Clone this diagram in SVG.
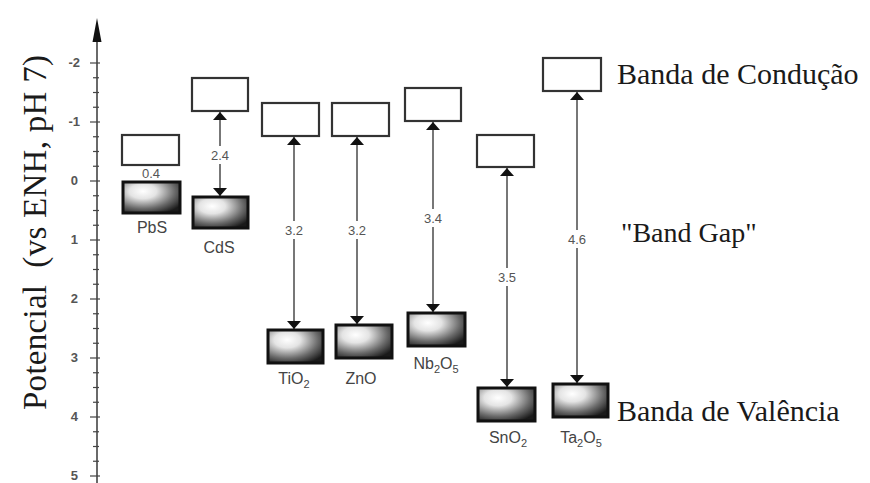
<svg xmlns="http://www.w3.org/2000/svg" width="870" height="483" viewBox="0 0 870 483">
<defs>
<radialGradient id="vbg" cx="0.35" cy="0.3" r="0.8">
<stop offset="0" stop-color="#ffffff"/>
<stop offset="0.3" stop-color="#e4e4e4"/>
<stop offset="0.7" stop-color="#6a6a6a"/>
<stop offset="1" stop-color="#1a1a1a"/>
</radialGradient>
<marker id="ah" viewBox="0 0 8 14" refX="8" refY="7" markerWidth="8" markerHeight="14" markerUnits="userSpaceOnUse" orient="auto-start-reverse">
<path d="M0,0 L8,7 L0,14 Z" fill="#111"/>
</marker>
<style>
.cb{fill:#fff;stroke:#333;stroke-width:2.2}
.vb{fill:url(#vbg);stroke:#111;stroke-width:3}
.con{stroke:#555;stroke-width:1.6;fill:none;marker-start:url(#ah);marker-end:url(#ah)}
.gap{font-family:"Liberation Sans",Arial,sans-serif;font-size:13px;fill:#555;text-anchor:middle}
.gapbg{fill:#fff}
.mat{font-family:"Liberation Sans",Arial,sans-serif;font-size:16px;fill:#444;text-anchor:middle}
.sub{font-size:11px}
.big{font-family:"Liberation Serif","Times New Roman",serif;font-size:30px;fill:#1a1a1a}
.ylab{font-size:33px}
.bg28{font-size:28px}
.tick{stroke:#444;stroke-width:1.2}
.tl{font-family:"Liberation Sans",Arial,sans-serif;font-size:13px;font-weight:bold;fill:#555;text-anchor:end}
</style>
</defs>
<rect width="870" height="483" fill="#fff"/>

<g id="axis">
<line x1="97" y1="34" x2="97" y2="483" stroke="#444" stroke-width="1.6"/>
<path d="M92.5,42 L97,18 L101.5,42 Z" fill="#111"/>
<g class="tick">
<line x1="90" y1="63" x2="100" y2="63"/><line x1="93" y1="77.75" x2="99" y2="77.75"/><line x1="93" y1="92.5" x2="99" y2="92.5"/><line x1="93" y1="107.25" x2="99" y2="107.25"/>
<line x1="90" y1="122" x2="100" y2="122"/><line x1="93" y1="136.75" x2="99" y2="136.75"/><line x1="93" y1="151.5" x2="99" y2="151.5"/><line x1="93" y1="166.25" x2="99" y2="166.25"/>
<line x1="90" y1="181" x2="100" y2="181"/><line x1="93" y1="195.75" x2="99" y2="195.75"/><line x1="93" y1="210.5" x2="99" y2="210.5"/><line x1="93" y1="225.25" x2="99" y2="225.25"/>
<line x1="90" y1="240" x2="100" y2="240"/><line x1="93" y1="254.75" x2="99" y2="254.75"/><line x1="93" y1="269.5" x2="99" y2="269.5"/><line x1="93" y1="284.25" x2="99" y2="284.25"/>
<line x1="90" y1="299" x2="100" y2="299"/><line x1="93" y1="313.75" x2="99" y2="313.75"/><line x1="93" y1="328.5" x2="99" y2="328.5"/><line x1="93" y1="343.25" x2="99" y2="343.25"/>
<line x1="90" y1="358" x2="100" y2="358"/><line x1="93" y1="372.75" x2="99" y2="372.75"/><line x1="93" y1="387.5" x2="99" y2="387.5"/><line x1="93" y1="402.25" x2="99" y2="402.25"/>
<line x1="90" y1="417" x2="100" y2="417"/><line x1="93" y1="431.75" x2="99" y2="431.75"/><line x1="93" y1="446.5" x2="99" y2="446.5"/><line x1="93" y1="461.25" x2="99" y2="461.25"/>
<line x1="90" y1="476" x2="100" y2="476"/>
</g>
<text class="tl" x="80" y="67">-2</text>
<text class="tl" x="80" y="126">-1</text>
<text class="tl" x="78" y="185">0</text>
<text class="tl" x="78" y="244">1</text>
<text class="tl" x="78" y="303">2</text>
<text class="tl" x="78" y="362">3</text>
<text class="tl" x="78" y="421">4</text>
<text class="tl" x="78" y="480">5</text>
<text class="big ylab" transform="translate(46,410) rotate(-90)" textLength="355" lengthAdjust="spacing">Potencial&#160; (vs ENH, pH 7)</text>
</g>

<g id="connectors">
<line class="con" x1="220" y1="112" x2="220" y2="196"/>
<line class="con" x1="294" y1="137" x2="294" y2="329"/>
<line class="con" x1="357" y1="137" x2="357" y2="324"/>
<line class="con" x1="433" y1="122" x2="433" y2="312"/>
<line class="con" x1="507" y1="168" x2="507" y2="387"/>
<line class="con" x1="577" y1="92" x2="577" y2="383"/>
<rect class="gapbg" x="209" y="146" width="22" height="18"/>
<text class="gap" x="220" y="160">2.4</text>
<rect class="gapbg" x="283" y="221" width="22" height="18"/>
<text class="gap" x="294" y="235">3.2</text>
<rect class="gapbg" x="346" y="221" width="22" height="18"/>
<text class="gap" x="357" y="235">3.2</text>
<rect class="gapbg" x="422" y="209" width="22" height="18"/>
<text class="gap" x="433" y="223">3.4</text>
<rect class="gapbg" x="496" y="268" width="22" height="18"/>
<text class="gap" x="507" y="282">3.5</text>
<rect class="gapbg" x="566" y="230" width="22" height="18"/>
<text class="gap" x="577" y="244">4.6</text>
</g>

<g id="PbS">
<rect class="cb" x="122" y="135" width="57" height="30"/>
<text class="gap" x="151" y="178">0.4</text>
<rect class="vb" x="123" y="182" width="57" height="31"/>
<text class="mat" x="152" y="233">PbS</text>
</g>
<g id="CdS">
<rect class="cb" x="192" y="78" width="56" height="33"/>
<rect class="vb" x="193" y="197" width="55" height="31"/>
<text class="mat" x="219" y="253">CdS</text>
</g>
<g id="TiO2">
<rect class="cb" x="262" y="103" width="57" height="33"/>
<rect class="vb" x="268" y="330" width="55" height="33"/>
<text class="mat" x="294" y="384">TiO<tspan class="sub" dy="4">2</tspan></text>
</g>
<g id="ZnO">
<rect class="cb" x="332" y="103" width="57" height="33"/>
<rect class="vb" x="336" y="325" width="56" height="33"/>
<text class="mat" x="361" y="384">ZnO</text>
</g>
<g id="Nb2O5">
<rect class="cb" x="405" y="88" width="56" height="33"/>
<rect class="vb" x="408" y="313" width="57" height="33"/>
<text class="mat" x="436" y="369">Nb<tspan class="sub" dy="4">2</tspan><tspan dy="-4">O</tspan><tspan class="sub" dy="4">5</tspan></text>
</g>
<g id="SnO2">
<rect class="cb" x="477" y="135" width="57" height="32"/>
<rect class="vb" x="478" y="388" width="57" height="33"/>
<text class="mat" x="508" y="443">SnO<tspan class="sub" dy="4">2</tspan></text>
</g>
<g id="Ta2O5">
<rect class="cb" x="543" y="58" width="58" height="33"/>
<rect class="vb" x="553" y="384" width="55" height="33"/>
<text class="mat" x="581" y="443">Ta<tspan class="sub" dy="4">2</tspan><tspan dy="-4">O</tspan><tspan class="sub" dy="4">5</tspan></text>
</g>

<g id="legend">
<text class="big" x="617" y="84">Banda de Condução</text>
<text class="big bg28" x="621" y="242">"Band Gap"</text>
<text class="big" x="617" y="421">Banda de Valência</text>
</g>
</svg>
